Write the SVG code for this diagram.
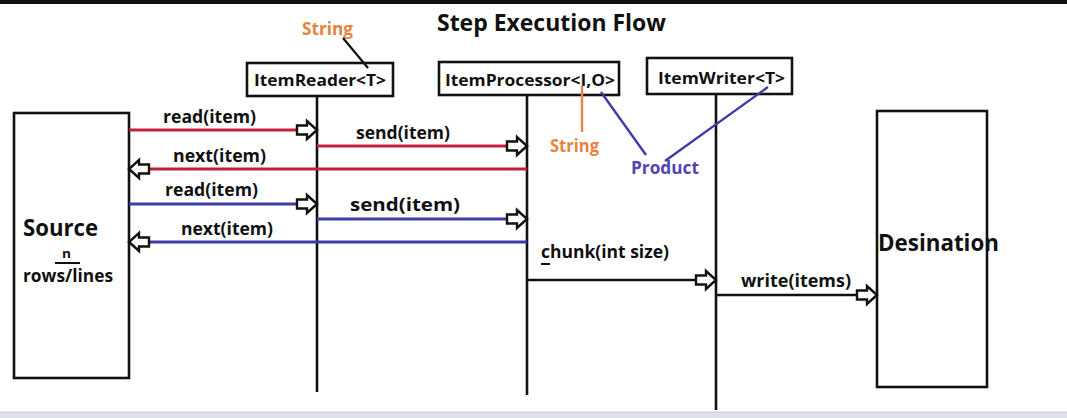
<svg xmlns="http://www.w3.org/2000/svg" width="1067" height="418" viewBox="0 0 1067 418">
<style>
  text { font-family: "Open Sans", "Liberation Sans", sans-serif; font-weight: bold; fill: #111; }
  .box { fill: #fff; stroke: #111; stroke-width: 2.6; }
  .life { stroke: #111; stroke-width: 2.6; fill: none; }
  .red { stroke: #c4203c; stroke-width: 2.8; fill: none; }
  .blue { stroke: #3c3ca6; stroke-width: 2.8; fill: none; }
  .blk { stroke: #111; stroke-width: 2.6; fill: none; }
  .lbl { font-size: 17.5px; }
  .nm { font-size: 16.5px; }
  .big { font-size: 22.5px; }
  .org { fill: #e8833e; font-size: 17px; }
  .pur { fill: #5344b2; font-size: 17px; }
</style>
<defs>
  <marker id="arr" markerUnits="userSpaceOnUse" markerWidth="26" markerHeight="24" refX="22" refY="12" orient="auto" overflow="visible">
    <path d="M2,7.5 H12 V3 L22,12 L12,21 V16.5 H2 Z" fill="#fff" stroke="#111" stroke-width="2.4" stroke-linejoin="miter"/>
  </marker>
</defs>
<rect x="0" y="0" width="1067" height="418" fill="#fff"/>
<rect x="0" y="0" width="1067" height="4" fill="#111"/>
<rect x="0" y="412" width="1067" height="6" fill="#dde0e6"/>
<line x1="0" y1="412" x2="1067" y2="412" stroke="#c8ccd4" stroke-width="1"/>

<text x="437" y="31" font-size="22.5" textLength="229" lengthAdjust="spacingAndGlyphs">Step Execution Flow</text>

<g id="source">
  <rect class="box" x="14" y="113" width="115" height="265"/>
  <text class="big" x="23" y="236" textLength="75" lengthAdjust="spacingAndGlyphs">Source</text>
  <text x="62" y="258" font-size="13" textLength="9" lengthAdjust="spacingAndGlyphs">n</text>
  <line x1="55" y1="263" x2="80" y2="263" stroke="#111" stroke-width="2"/>
  <text class="lbl" x="23" y="282" textLength="90" lengthAdjust="spacingAndGlyphs">rows/lines</text>
</g>

<g id="reader">
  <line class="life" x1="317" y1="96" x2="317" y2="392"/>
  <rect class="box" x="247" y="63" width="146" height="33"/>
  <text class="nm" x="254" y="86" textLength="132" lengthAdjust="spacingAndGlyphs">ItemReader&lt;T&gt;</text>
</g>

<g id="processor">
  <line class="life" x1="527" y1="95" x2="527" y2="395"/>
  <rect class="box" x="439" y="62" width="180" height="33"/>
  <text class="nm" x="445" y="86" textLength="170" lengthAdjust="spacingAndGlyphs">ItemProcessor&lt;I,O&gt;</text>
</g>

<g id="writer">
  <line class="life" x1="716" y1="94" x2="716" y2="410"/>
  <rect class="box" x="647" y="58" width="145" height="36"/>
  <text class="nm" x="658" y="84" textLength="127" lengthAdjust="spacingAndGlyphs">ItemWriter&lt;T&gt;</text>
</g>

<g id="destination">
  <rect class="box" x="877" y="111" width="110" height="276"/>
  <text class="big" x="878" y="251" textLength="121" lengthAdjust="spacingAndGlyphs">Desination</text>
</g>

<g id="annotations">
  <text class="org" x="302" y="35" textLength="51" lengthAdjust="spacingAndGlyphs">String</text>
  <line x1="343" y1="38" x2="368" y2="68" stroke="#111" stroke-width="2.2"/>
  <line x1="582" y1="86" x2="582" y2="132" stroke="#e8833e" stroke-width="2.4"/>
  <text class="org" x="550" y="152" textLength="49" lengthAdjust="spacingAndGlyphs">String</text>
  <line x1="601" y1="92" x2="646" y2="155" stroke="#3c3ca6" stroke-width="2.4"/>
  <line x1="665" y1="161" x2="768" y2="87" stroke="#3c3ca6" stroke-width="2.4"/>
  <text class="pur" x="631" y="174" textLength="68" lengthAdjust="spacingAndGlyphs">Product</text>
</g>

<g id="connectors">
  <path class="red" d="M129,130 H317" marker-end="url(#arr)"/>
  <path class="red" d="M317,146 H527" marker-end="url(#arr)"/>
  <path class="red" d="M527,169 H129" marker-end="url(#arr)"/>
  <path class="blue" d="M129,204 H317" marker-end="url(#arr)"/>
  <path class="blue" d="M317,219 H527" marker-end="url(#arr)"/>
  <path class="blue" d="M527,242 H129" marker-end="url(#arr)"/>
  <path class="blk" d="M527,280 H716" marker-end="url(#arr)"/>
  <path class="blk" d="M716,295 H877" marker-end="url(#arr)"/>
  <text class="lbl" x="163" y="123" textLength="93" lengthAdjust="spacingAndGlyphs">read(item)</text>
  <text class="lbl" x="356" y="139" textLength="94" lengthAdjust="spacingAndGlyphs">send(item)</text>
  <text class="lbl" x="173" y="162" textLength="93" lengthAdjust="spacingAndGlyphs">next(item)</text>
  <text class="lbl" x="165" y="196" textLength="93" lengthAdjust="spacingAndGlyphs">read(item)</text>
  <text class="lbl" x="350" y="211" textLength="110" lengthAdjust="spacingAndGlyphs">send(item)</text>
  <text class="lbl" x="181" y="235" textLength="92" lengthAdjust="spacingAndGlyphs">next(item)</text>
  <text class="lbl" x="541" y="258" textLength="128" lengthAdjust="spacingAndGlyphs">chunk(int size)</text>
  <line x1="541" y1="264" x2="550" y2="264" stroke="#111" stroke-width="2"/>
  <text class="lbl" x="741" y="287" textLength="110" lengthAdjust="spacingAndGlyphs">write(items)</text>
</g>
</svg>
